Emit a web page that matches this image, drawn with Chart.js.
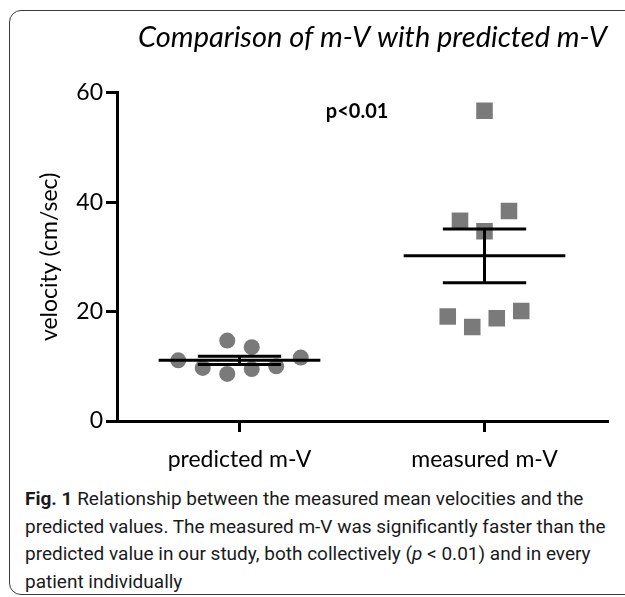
<!DOCTYPE html>
<html>
<head>
<meta charset="utf-8">
<script src="https://cdn.jsdelivr.net/npm/chart.js@4.4.1/dist/chart.umd.min.js"></script>
<style>
  html, body { margin: 0; padding: 0; background: #fff; overflow: hidden; }
  #wrap { position: relative; width: 625px; height: 597px; }
  #frame {
    position: absolute; left: 9px; top: 10px; width: 650px; height: 583px;
    border: 1.5px solid #3a3a3a; border-radius: 12px;
  }
  #chart { position: absolute; left: 0; top: 0; }
  #caption {
    position: absolute; left: 25px; top: 485px; width: 595px;
    font-family: Roboto, sans-serif; font-size: 19px; line-height: 27.5px; color: #1a1a1a;
  }
</style>
</head>
<body>
<div id="wrap">
  <div id="frame"></div>
  <canvas id="chart" width="625" height="480"></canvas>
  <div id="caption"><b>Fig. 1</b> Relationship between the measured mean velocities and the<br>predicted values. The measured m-V was significantly faster than the<br>predicted value in our study, both collectively (<i>p</i>&nbsp;&lt;&nbsp;0.01) and in every<br>patient individually</div>
</div>
<script>
// groups on the x axis
const categories = ['predicted m-V', 'measured m-V'];

// individual values (cm/sec)
const predictedValues = [11.1, 9.7, 14.7, 8.6, 13.5, 9.5, 10.0, 11.6];
const measuredValues = [19.1, 36.6, 17.2, 56.7, 34.7, 18.8, 38.4, 20.1];

// horizontal scatter of each point around its group (in group units)
const predictedJitter = [-0.25, -0.15, -0.05, -0.05, 0.05, 0.05, 0.15, 0.25];
const measuredJitter = [-0.15, -0.10, -0.05, 0, 0, 0.05, 0.10, 0.15];

const yTicks = [0, 20, 40, 60];
const pLabel = 'p<0.01';

const FONT = 'Lato, "Open Sans", sans-serif';

function mean(a) { return a.reduce((s, v) => s + v, 0) / a.length; }
function sem(a) {
  const m = mean(a);
  const v = a.reduce((s, x) => s + (x - m) * (x - m), 0) / (a.length - 1);
  return Math.sqrt(v / a.length);
}

// mean line + SEM whiskers for one group, as line segments split by gaps
function meanSemSegments(pos, vals) {
  const m = mean(vals), e = sem(vals);
  const half = 0.33, cap = 0.17;
  const gap = {x: pos, y: null};
  return [
    {x: pos - half, y: m}, {x: pos + half, y: m}, gap,
    {x: pos - cap, y: m + e}, {x: pos + cap, y: m + e}, gap,
    {x: pos - cap, y: m - e}, {x: pos + cap, y: m - e}, gap,
    {x: pos, y: m - e}, {x: pos, y: m + e}
  ];
}

const predictedPoints = predictedValues.map((v, i) => ({x: 1 + predictedJitter[i], y: v}));
const measuredPoints = measuredValues.map((v, i) => ({x: 2 + measuredJitter[i], y: v}));

// text annotation p<0.01
const pValuePlugin = {
  id: 'pValue',
  afterDatasetsDraw(chart) {
    const {ctx, scales} = chart;
    ctx.save();
    ctx.font = 'bold 20px ' + FONT;
    ctx.fillStyle = '#000';
    ctx.textAlign = 'center';
    ctx.textBaseline = 'middle';
    ctx.fillText(pLabel, scales.x.getPixelForValue(1.48), scales.y.getPixelForValue(56.6));
    ctx.restore();
  }
};

const ctx = document.getElementById('chart').getContext('2d');
new Chart(ctx, {
  type: 'scatter',
  data: {
    datasets: [
      {
        type: 'line', data: meanSemSegments(1, predictedValues),
        borderColor: '#000', borderWidth: 3, pointRadius: 0, spanGaps: false, order: 0
      },
      {
        type: 'line', data: meanSemSegments(2, measuredValues),
        borderColor: '#000', borderWidth: 3, pointRadius: 0, spanGaps: false, order: 0
      },
      {
        data: predictedPoints, pointStyle: 'circle', pointRadius: 8,
        backgroundColor: '#7a7a7a', borderWidth: 0, order: 1
      },
      {
        data: measuredPoints, pointStyle: 'rect', pointRadius: 11.7,
        backgroundColor: '#7a7a7a', borderWidth: 0, order: 1
      }
    ]
  },
  options: {
    responsive: false,
    animation: false,
    events: [],
    layout: { padding: { left: 10, right: 18, top: 0, bottom: 0 } },
    plugins: {
      legend: { display: false },
      tooltip: { enabled: false },
      title: {
        display: true,
        align: 'end',
        text: 'Comparison of m-V with predicted m-V',
        color: '#000',
        font: { family: FONT, style: 'italic', size: 29, weight: 'normal' },
        padding: { top: 20, bottom: 38 }
      }
    },
    scales: {
      x: {
        type: 'linear', min: 0.5, max: 2.5,
        afterBuildTicks: s => { s.ticks = [{value: 1}, {value: 2}]; },
        afterFit: s => { s.height = 59; },
        ticks: {
          color: '#000', padding: 14,
          font: { family: FONT, size: 23 },
          callback: v => categories[v - 1]
        },
        grid: { drawOnChartArea: false, color: '#000', lineWidth: 3, tickLength: 11 },
        border: { display: true, color: '#000', width: 3 }
      },
      y: {
        min: 0, max: 60,
        afterBuildTicks: s => { s.ticks = yTicks.map(v => ({value: v})); },
        afterFit: s => { s.width = 107; },
        ticks: { color: '#000', padding: 3, font: { family: FONT, size: 23 } },
        grid: { drawOnChartArea: false, color: '#000', lineWidth: 3, tickLength: 11 },
        border: { display: true, color: '#000', width: 3 },
        title: {
          display: true, text: 'velocity (cm/sec)', color: '#000',
          font: { family: FONT, size: 23 }, padding: { top: 26, bottom: 0 }
        }
      }
    }
  },
  plugins: [pValuePlugin]
});
</script>
</body>
</html>
